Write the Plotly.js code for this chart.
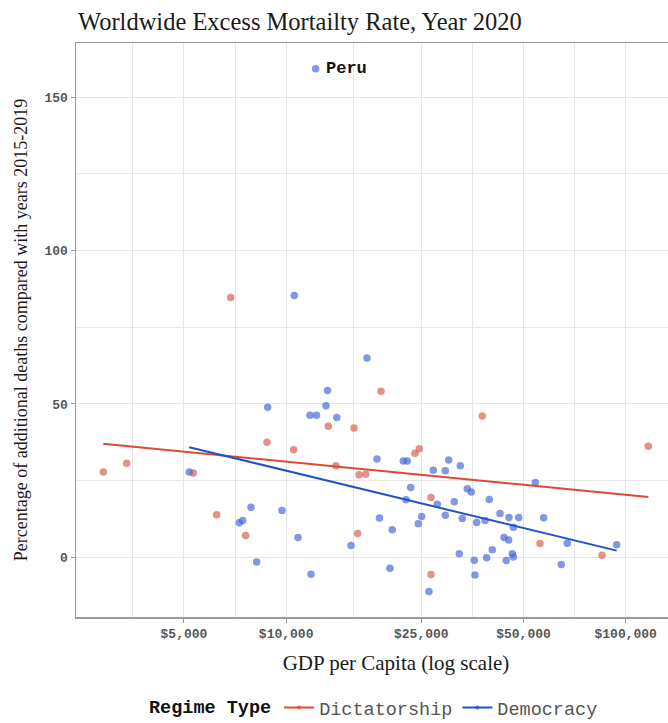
<!DOCTYPE html>
<html>
<head>
<meta charset="utf-8">
<script src="https://cdn.plot.ly/plotly-3.0.1.min.js"></script>
<style>
html,body{margin:0;padding:0;overflow:hidden;background:#fff;}
#chart{width:750px;height:723px;}
</style>
</head>
<body>
<div id="chart"></div>
<script>
// ---- Data ----
const groups = ['Dictatorship', 'Democracy'];

const dictGdp  = [2893, 3390, 5325, 6242, 6865, 7598, 8781, 10522, 13305, 14018, 15840, 16243, 16390, 17150, 19023, 23955, 24665, 26700, 26700, 37810, 55930, 85160, 116600];
const dictRate = [27.8, 30.7, 27.5, 13.9, 84.7, 7.1, 37.5, 35.1, 42.7, 29.9, 42.2, 7.8, 26.9, 27.1, 54.1, 33.9, 35.4, 19.5, -5.6, 46.1, 4.5, 0.7, 36.2];

const demoGdp  = [5182, 7276, 7445, 7876, 8187, 8822, 9721, 10566, 10835, 11752, 12282, 11834, 13101, 13234, 14096, 15522, 17300, 18515, 18827, 20218, 20535, 22129, 22738, 22540, 23267, 24495, 25066, 26336, 27118, 27866, 29422, 29422, 30107, 31272, 32349, 32566, 33012, 34157, 35090, 35817, 35982, 36406, 38509, 38955, 39652, 40464, 42634, 43808, 44490, 45223, 45317, 46345, 46666, 46700, 48406, 54182, 57345, 64595, 67298, 94090];
const demoRate = [27.8, 11.3, 12.0, 16.3, -1.5, 48.9, 15.3, 85.3, 6.5, 46.3, 46.3, -5.5, 49.4, 54.4, 45.6, 3.9, 65.0, 32.1, 12.8, -3.5, 9.0, 31.4, 31.4, 18.8, 22.8, 11.0, 13.3, -11.1, 28.4, 17.3, 28.2, 13.7, 31.7, 18.1, 1.2, 29.9, 12.7, 22.4, 21.3, -0.9, -5.7, 11.4, 12.0, -0.1, 18.9, 2.5, 14.3, 6.5, -1.0, 5.7, 13.0, 1.2, 0.1, 9.8, 13.0, 24.4, 12.9, -2.3, 4.6, 4.1];

// labelled democracy point
const peruName = 'Peru';
const peruGdp  = [12214];
const peruRate = [159.2];

// linear fits
const dictFitGdp  = [2893, 116600];
const dictFitRate = [37.0, 19.7];
const demoFitGdp  = [5182, 94090];
const demoFitRate = [35.9, 2.2];

// axis ticks
const xTickVals  = [5000, 10000, 25000, 50000, 100000];
const xTickText  = ['$5,000', '$10,000', '$25,000', '$50,000', '$100,000'];
const xMinorVals = [3536, 7071, 15811, 35355, 70711, 141421];
const yTickVals  = [0, 50, 100, 150];
const yMinorVals = [25, 75, 125];

// ---- Styles ----
const dictPoint = 'rgba(216,88,74,0.66)';
const demoPoint = 'rgba(65,99,216,0.66)';
const dictLine = '#DD4A33';
const demoLine = '#2352C8';
const mono = '"Liberation Mono", "Courier New", monospace';
const serif = '"Liberation Serif", "Times New Roman", serif';

const traces = [
  {x: dictGdp, y: dictRate, type: 'scatter', mode: 'markers', name: groups[0],
   legendgroup: 'd', showlegend: false, hoverinfo: 'skip',
   marker: {color: dictPoint, size: 7.5}},
  {x: demoGdp.concat(peruGdp), y: demoRate.concat(peruRate), type: 'scatter', mode: 'markers', name: groups[1],
   legendgroup: 'm', showlegend: false, hoverinfo: 'skip',
   marker: {color: demoPoint, size: 7.5}},
  {x: dictFitGdp, y: dictFitRate, type: 'scatter', mode: 'lines+markers', name: groups[0],
   legendgroup: 'd', hoverinfo: 'skip',
   line: {color: dictLine, width: 2},
   marker: {color: dictLine, size: [0, 0], line: {color: dictLine, width: 2}}},
  {x: demoFitGdp, y: demoFitRate, type: 'scatter', mode: 'lines+markers', name: groups[1],
   legendgroup: 'm', hoverinfo: 'skip',
   line: {color: demoLine, width: 2},
   marker: {color: demoLine, size: [0, 0], line: {color: demoLine, width: 2}}}
];

const gridCol = '#e6e6e6';
const axisCol = '#9a9a9a';

const layout = {
  width: 750, height: 723,
  margin: {l: 76, r: 34, t: 43, b: 106},
  paper_bgcolor: '#fff', plot_bgcolor: '#fff',
  hovermode: false,
  title: {
    text: 'Worldwide Excess Mortailty Rate, Year 2020',
    font: {family: serif, size: 24.5, color: '#1a1a1a'},
    x: 0, xref: 'paper', xanchor: 'left', pad: {l: 2},
    y: 1 - 21 / 723, yref: 'container', yanchor: 'middle'
  },
  xaxis: {
    type: 'log',
    range: [3.381, 5.266],
    tickmode: 'array', tickvals: xTickVals, ticktext: xTickText,
    tickfont: {family: mono, size: 13, color: '#555', weight: 'bold'},
    ticks: 'outside', ticklen: 4, tickcolor: axisCol, tickwidth: 1,
    showgrid: true, gridcolor: gridCol, gridwidth: 1,
    minor: {tickmode: 'array', tickvals: xMinorVals, showgrid: true, gridcolor: gridCol, gridwidth: 1, ticks: ''},
    showline: true, linecolor: axisCol, linewidth: 1.5, mirror: true,
    zeroline: false,
    title: {text: 'GDP per Capita (log scale)', font: {family: serif, size: 21, color: '#1a1a1a'}, standoff: 14}
  },
  yaxis: {
    range: [-19.42, 167.6],
    tickmode: 'array', tickvals: yTickVals,
    tickfont: {family: mono, size: 13, color: '#555', weight: 'bold'},
    ticks: 'outside', ticklen: 4, tickcolor: axisCol, tickwidth: 1,
    showgrid: true, gridcolor: gridCol, gridwidth: 1,
    minor: {tickmode: 'array', tickvals: yMinorVals, showgrid: true, gridcolor: gridCol, gridwidth: 1, ticks: ''},
    showline: true, linecolor: axisCol, linewidth: 1.5, mirror: true,
    zeroline: false,
    title: {text: 'Percentage of additional deaths compared with years 2015-2019', font: {family: serif, size: 18, color: '#1a1a1a'}, standoff: 12}
  },
  legend: {
    orientation: 'h',
    x: 0.5, xref: 'container', xanchor: 'center',
    y: 15 / 723, yref: 'container', yanchor: 'middle',
    title: {text: 'Regime Type', side: 'left', font: {family: mono, size: 18.5, color: '#111', weight: 'bold'}},
    font: {family: mono, size: 18.5, color: '#555'},
    itemwidth: 30,
    traceorder: 'normal'
  },
  annotations: [{
    x: Math.log10(peruGdp[0]), y: peruRate[0], xref: 'x', yref: 'y',
    text: peruName, showarrow: false, xanchor: 'left', yanchor: 'middle', xshift: 8,
    font: {family: mono, size: 17, color: '#111', weight: 'bold'}
  }]
};

Plotly.newPlot('chart', traces, layout, {displayModeBar: false, staticPlot: true});
</script>
</body>
</html>
